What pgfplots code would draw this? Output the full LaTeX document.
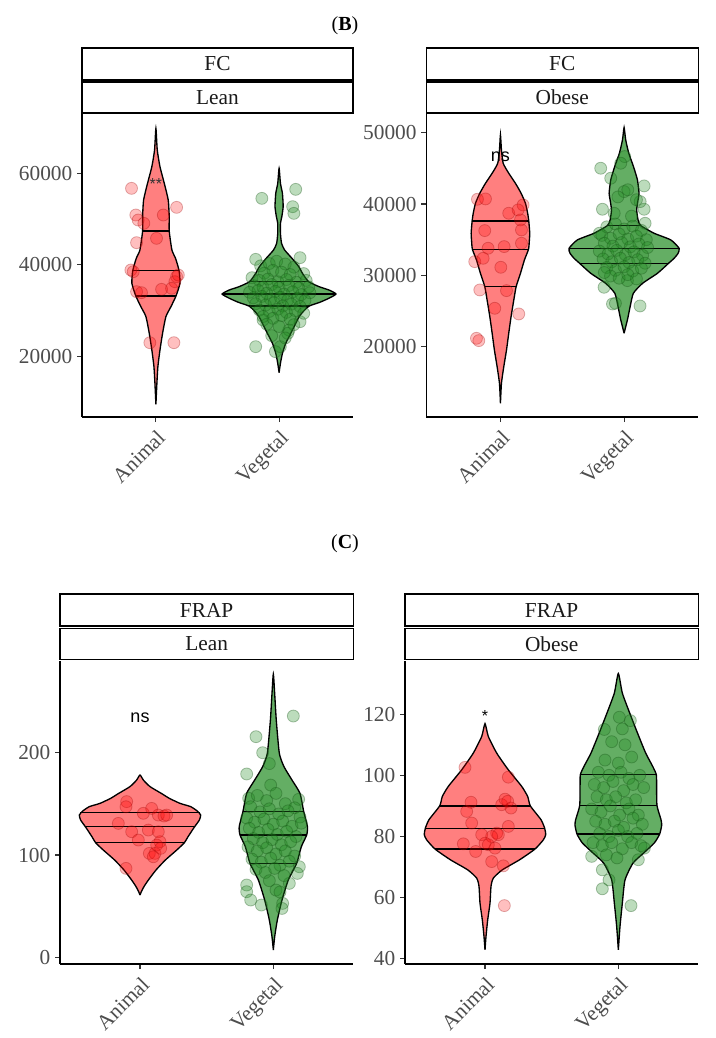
\documentclass[border=0pt]{standalone}
\usepackage{pgfplots}
\usepackage{pgfplotstable}
\pgfplotsset{compat=1.18}
\usepackage{fontspec}
\setmainfont{Liberation Serif}
\newfontfamily\arial{Liberation Sans}
\definecolor{vred}{RGB}{255,0,0}
\definecolor{vgreen}{RGB}{34,139,34}
\definecolor{tickgrey}{RGB}{77,77,77}
\definecolor{stripfg}{RGB}{26,26,26}

% violin outlines: y, signed half-width (x units), right side up then left side down
\pgfplotstableread{
y w
9455 0
14056 0.008
17707 0.016
21358 0.033
25009 0.054
28660 0.081
30851 0.122
33187 0.163
35962 0.195
38737 0.188
41400 0.160
43264 0.130
47425 0.108
50566 0.108
54217 0.100
57868 0.068
61519 0.033
65170 0.011
69916 0
65170 -0.011
61519 -0.033
57868 -0.068
54217 -0.100
50566 -0.108
47425 -0.108
43264 -0.130
41400 -0.160
38737 -0.188
35962 -0.195
33187 -0.163
30851 -0.122
28660 -0.081
25009 -0.054
21358 -0.033
17707 -0.016
14056 -0.008
9455 0
}\vBLA
\pgfplotstableread{
y w
16393 0
18438 0.011
20628 0.027
22819 0.054
25009 0.095
26470 0.122
28660 0.163
29900 0.200
30997 0.245
31800 0.330
32700 0.405
33625 0.462
34500 0.405
35232 0.325
36327 0.240
38152 0.190
39613 0.160
41438 0.105
43264 0.045
44724 0.020
46915 0.011
49105 0.011
50566 0.022
52757 0.033
55677 0.027
57868 0.011
61154 0
57868 -0.011
55677 -0.027
52757 -0.033
50566 -0.022
49105 -0.011
46915 -0.011
44724 -0.020
43264 -0.045
41438 -0.105
39613 -0.160
38152 -0.190
36327 -0.240
35232 -0.325
34500 -0.405
33625 -0.462
32700 -0.405
31800 -0.330
30997 -0.245
29900 -0.200
28660 -0.163
26470 -0.122
25009 -0.095
22819 -0.054
20628 -0.027
18438 -0.011
16393 0
}\vBLV
\pgfplotstableread{
y w
12058 0
14863 0.008
17200 0.027
19538 0.049
21875 0.067
24213 0.086
26550 0.108
28420 0.127
30290 0.162
32160 0.194
33656 0.227
34965 0.234
35900 0.237
37630 0.229
38705 0.220
40108 0.202
41510 0.167
42913 0.121
44315 0.067
45718 0.022
47587 0.008
49691 0
47587 -0.008
45718 -0.022
44315 -0.067
42913 -0.121
41510 -0.167
40108 -0.202
38705 -0.220
37630 -0.229
35900 -0.237
34965 -0.234
33656 -0.227
32160 -0.194
30290 -0.162
28420 -0.127
26550 -0.108
24213 -0.086
21875 -0.067
19538 -0.049
17200 -0.027
14863 -0.008
12058 0
}\vBOA
\pgfplotstableread{
y w
21875 0
23755 0.027
25615 0.049
27485 0.075
28888 0.150
30290 0.270
31693 0.360
32395 0.405
33095 0.437
33796 0.445
34965 0.378
35900 0.243
36975 0.135
37770 0.113
39173 0.102
40575 0.113
41510 0.121
43380 0.108
45250 0.076
47120 0.038
48990 0.013
50720 0
48990 -0.013
47120 -0.038
45250 -0.076
43380 -0.108
41510 -0.121
40575 -0.113
39173 -0.102
37770 -0.113
36975 -0.135
35900 -0.243
34965 -0.378
33796 -0.445
33095 -0.437
32395 -0.405
31693 -0.360
30290 -0.270
28888 -0.150
27485 -0.075
25615 -0.049
23755 -0.027
21875 0
}\vBOV
\pgfplotstableread{
y w
61.0 0
64.3 0.010
69.3 0.030
75.6 0.0625
85.4 0.120
95.1 0.190
104.8 0.275
112.0 0.333
117.8 0.360
127.6 0.410
134.0 0.445
138.9 0.455
142.8 0.430
147.1 0.380
150.3 0.300
155.2 0.220
160.0 0.160
166.6 0.075
173.0 0.025
177.9 0
173.0 -0.025
166.6 -0.075
160.0 -0.160
155.2 -0.220
150.3 -0.300
147.1 -0.380
142.8 -0.430
138.9 -0.455
134.0 -0.445
127.6 -0.410
117.8 -0.360
112.0 -0.333
104.8 -0.275
95.1 -0.190
85.4 -0.120
75.6 -0.0625
69.3 -0.030
64.3 -0.010
61.0 0
}\vCLA
\pgfplotstableread{
y w
7.5 0
20.4 0.010
36.7 0.030
56.2 0.065
75.6 0.112
91.9 0.175
108.1 0.210
119.5 0.250
127.6 0.256
142.2 0.228
160.0 0.200
173.0 0.140
186.0 0.080
199.0 0.045
231.4 0.022
257.4 0.010
276.2 0
257.4 -0.010
231.4 -0.022
199.0 -0.045
186.0 -0.080
173.0 -0.140
160.0 -0.200
142.2 -0.228
127.6 -0.256
119.5 -0.250
108.1 -0.210
91.9 -0.175
75.6 -0.112
56.2 -0.065
36.7 -0.030
20.4 -0.010
7.5 0
}\vCLV
\pgfplotstableread{
y w
42.9 0
47.3 0.0075
52.7 0.020
58.2 0.0375
63.7 0.045
66.4 0.0625
69.1 0.130
72.4 0.260
75.9 0.375
78.9 0.4375
80.6 0.455
82.7 0.4475
85.5 0.420
90.0 0.340
93.1 0.320
96.4 0.275
101.8 0.175
107.3 0.0875
112.7 0.025
116.9 0
112.7 -0.025
107.3 -0.0875
101.8 -0.175
96.4 -0.275
93.1 -0.320
90.0 -0.340
85.5 -0.420
82.7 -0.4475
80.6 -0.455
78.9 -0.4375
75.9 -0.375
72.4 -0.260
69.1 -0.130
66.4 -0.0625
63.7 -0.045
58.2 -0.0375
52.7 -0.020
47.3 -0.0075
42.9 0
}\vCOA
\pgfplotstableread{
y w
42.9 0
50.6 0.0125
58.2 0.030
65.8 0.050
71.3 0.110
74.6 0.190
77.9 0.270
80.8 0.310
83.7 0.325
85.5 0.320
90.1 0.290
96.4 0.287
100.2 0.285
102.9 0.258
107.3 0.205
113.8 0.144
120.4 0.085
126.9 0.030
133.3 0
126.9 -0.030
120.4 -0.085
113.8 -0.144
107.3 -0.205
102.9 -0.258
100.2 -0.285
96.4 -0.287
90.1 -0.290
85.5 -0.320
83.7 -0.325
80.8 -0.310
77.9 -0.270
74.6 -0.190
71.3 -0.110
65.8 -0.050
58.2 -0.030
50.6 -0.0125
42.9 0
}\vCOV

\newcommand\violin[4]{% center, table, colour, opacity
  \addplot[fill=#3, fill opacity=#4, draw=black, line width=1pt, smooth, tension=0.35] table[x expr=#1+\thisrow{w}, y=y]{#2};
}

\pgfplotsset{
  vbase/.style={scale only axis, anchor=south west, xmin=0.4, xmax=2.6,
    axis x line*=bottom, axis y line*=left,
    xtick={1,2}, xticklabels={Animal,Vegetal},
    tick align=outside, major tick length=3.75pt,
    tick style={line width=0.8pt, color=black!80},
    axis line style={line width=1pt, -},
    tick label style={font=\fontsize{16}{19}\selectfont, text=tickgrey},
    xticklabel style={rotate=45, anchor=north east},
    /pgf/number format/1000 sep={},
    /pgf/number format/assume math mode=true,
    scaled y ticks=false},
  pts/.style={only marks, mark=*, mark size=4.5pt},
  rpts/.style={pts, mark options={fill=vred, fill opacity=0.25, draw=vred!60!black, draw opacity=0.3, line width=0.6pt}},
  gpts/.style={pts, mark options={fill=vgreen, fill opacity=0.3, draw=vgreen!60!black, draw opacity=0.35, line width=0.6pt}},
  qline/.style={black, line width=1pt},
}

\begin{document}
\begin{tikzpicture}
\useasboundingbox (0,0) rectangle (536.25pt,-778.5pt);

% ---------------- B / Lean
\begin{axis}[vbase, at={(61.5pt,-312.75pt)}, width=203.25pt, height=227.25pt,
  ymin=6680, ymax=73060, ytick={20000,40000,60000}]
\addplot[rpts] coordinates {(0.802,56773) (1.168,52612) (0.837,50930) (1.060,50930) (0.856,49836) (0.902,49106) (0.843,44870) (1.005,45820) (0.797,38883) (0.816,38518) (1.168,37422) (1.154,36327) (1.182,37787) (0.843,34137) (0.883,33918) (1.046,34648) (1.127,34867) (0.951,22962) (1.146,22962)};
\addplot[gpts] coordinates {(1.86,54580) (2.135,56552) (2.11,52757) (2.12,51296) (1.81,41219) (2.17,41584) (1.81,22088) (1.97,21000) (2.08,25740) (2.17,27564) (1.87,27929) (2.07,25009) (2.01,22088)
(1.85,39800) (1.92,40300) (1.98,40800) (2.05,40200) (2.12,39500) (1.88,38200) (1.95,38800) (2.02,38400) (2.09,37900) (2.20,38100) (1.78,37200) (1.84,36600) (1.91,36900) (1.99,36300) (2.06,36800) (2.14,36200) (2.22,36600) (1.80,35400) (1.87,35100) (1.94,35700) (2.00,35000) (2.08,35500) (2.16,34900) (2.24,35200) (1.76,34000) (1.83,34400) (1.90,33800) (1.97,34200) (2.04,33600) (2.11,34100) (2.18,33500) (2.25,33900) (1.79,32800) (1.86,33100) (1.93,32500) (2.01,32900) (2.07,32300) (2.15,32700) (2.21,32200) (1.81,31500) (1.89,31200) (1.96,31700) (2.03,31000) (2.10,31400) (2.17,30900) (1.84,30100) (1.92,29800) (1.99,30300) (2.06,29600) (2.13,30000) (2.20,29400) (1.87,28700) (1.95,28300) (2.02,28900) (2.09,28100) (1.90,27000) (2.00,26500) (2.12,26900) (1.94,24500) (2.05,24000)};
\violin{1}{\vBLA}{vred}{0.5}
\violin{2}{\vBLV}{vgreen}{0.7}
\addplot[qline] coordinates {(0.892,47425) (1.108,47425)};
\addplot[qline] coordinates {(0.812,38737) (1.188,38737)};
\addplot[qline] coordinates {(0.838,33187) (1.162,33187)};
\addplot[qline] coordinates {(1.758,36400) (2.242,36400)};
\addplot[qline] coordinates {(1.538,33625) (2.462,33625)};
\addplot[qline] coordinates {(1.755,30997) (2.245,30997)};
\node[font=\arial\fontsize{12}{14}\selectfont, inner sep=0, text=black!80] at (axis cs:1,57650) {**};
\end{axis}

% ---------------- B / Obese
\begin{axis}[vbase, at={(319.7pt,-312.75pt)}, width=204pt, height=227.25pt,
  ymin=10140, ymax=52620, ytick={20000,30000,40000,50000}]
\addplot[rpts] coordinates {(0.814,40668) (0.879,40715) (1.183,39874) (1.067,38705) (1.143,39173) (1.162,37770) (1.170,36368) (0.873,36274) (0.900,33797) (1.030,34030) (1.170,34498) (0.792,31926) (0.860,32393) (1.003,31131) (0.833,27953) (1.049,27859) (0.954,25381) (1.148,24587) (0.806,21174) (0.825,20848)};
\addplot[gpts] coordinates {(1.811,45016) (1.892,43614) (2.162,42539) (2.0,41744) (1.825,39266) (2.162,39266) (2.13,40341) (2.005,46653) (1.973,45718) (1.906,25989) (2.129,25709) (1.838,28327) (1.93,26082) (2.027,29262) (2.03,42000) (1.95,41000) (2.10,40600) (2.17,37300) (1.80,35900)
(1.86,36800) (1.93,37200) (2.00,36500) (2.07,36900) (2.14,36300) (1.82,35600) (1.89,35200) (1.96,35800) (2.03,35100) (2.10,35500) (2.18,35000) (1.84,34500) (1.91,34100) (1.98,34600) (2.05,34000) (2.12,34400) (2.19,33900) (1.80,33400) (1.87,33000) (1.94,33500) (2.01,32900) (2.08,33300) (2.15,32800) (1.83,32300) (1.90,31900) (1.97,32400) (2.04,31800) (2.11,32200) (2.17,31700) (1.86,31100) (1.93,30700) (2.00,31200) (2.07,30600) (2.14,31000) (1.89,29900) (1.96,29600) (2.03,30100) (2.10,29500) (1.84,30400) (2.06,38300) (1.92,38700)};
\violin{1}{\vBOA}{vred}{0.5}
\violin{2}{\vBOV}{vgreen}{0.7}
\addplot[qline] coordinates {(0.773,37630) (1.227,37630)};
\addplot[qline] coordinates {(0.773,33656) (1.227,33656)};
\addplot[qline] coordinates {(0.876,28420) (1.124,28420)};
\addplot[qline] coordinates {(1.868,36975) (2.132,36975)};
\addplot[qline] coordinates {(1.555,33796) (2.445,33796)};
\addplot[qline] coordinates {(1.640,31693) (2.360,31693)};
\node[font=\arial\fontsize{13.5}{16}\selectfont, inner sep=0] at (axis cs:1,46653) {ns};
\end{axis}

% ---------------- C / Lean
\begin{axis}[vbase, at={(45pt,-723pt)}, width=220pt, height=227.5pt,
  ymin=-6.1, ymax=289.2, ytick={0,100,200}]
\addplot[rpts] coordinates {(0.90,152.0) (0.8375,130.8) (0.895,147.0) (0.9375,122.7) (1.025,140.6) (1.0875,145.4) (1.1375,138.9) (1.18,138.0) (1.20,138.9) (1.0625,124.3) (0.9875,114.6) (1.1375,122.7) (1.15,113.0) (1.125,109.7) (1.07,101.6) (1.1125,101.6) (1.155,106.5) (0.895,87.0) (1.10,98.3)};
\addplot[gpts] coordinates {(2.15,235.3) (1.87,215.2) (1.92,199.6) (1.80,178.9) (1.97,189) (2.19,154.2) (2.195,88.6) (2.18,82.1) (1.80,70.8) (1.80,64.3) (1.83,56.2) (1.91,51.3) (2.07,52.9) (2.065,48.0) (2.02,65.9) (2.12,72.4) (1.815,155.2) (1.98,168.1)
(1.88,158) (1.95,153) (2.02,160) (2.09,150) (2.16,146) (1.83,147) (1.90,142) (1.97,145) (2.04,140) (2.11,143) (2.20,137) (1.80,136) (1.86,132) (1.93,135) (2.00,130) (2.07,133) (2.14,128) (2.21,131) (1.82,126) (1.89,122) (1.96,125) (2.03,120) (2.10,123) (2.17,118) (1.85,116) (1.92,112) (1.99,115) (2.06,110) (2.13,113) (1.81,108) (1.88,104) (1.95,107) (2.02,101) (2.09,104) (2.16,99) (1.84,96) (1.91,93) (1.98,97) (2.05,90) (2.12,94) (1.87,86) (1.94,83) (2.01,87) (2.08,80) (1.97,75) (2.05,64)};
\violin{1}{\vCLA}{vred}{0.5}
\violin{2}{\vCLV}{vgreen}{0.7}
\addplot[qline] coordinates {(0.55,141.2) (1.45,141.2)};
\addplot[qline] coordinates {(0.59,127.6) (1.41,127.6)};
\addplot[qline] coordinates {(0.667,112.0) (1.333,112.0)};
\addplot[qline] coordinates {(1.772,142.2) (2.228,142.2)};
\addplot[qline] coordinates {(1.75,119.5) (2.25,119.5)};
\addplot[qline] coordinates {(1.825,91.9) (2.175,91.9)};
\node[font=\arial\fontsize{13.5}{16}\selectfont, inner sep=0] at (axis cs:1,234) {ns};
\end{axis}

% ---------------- C / Obese
\begin{axis}[vbase, at={(303.75pt,-723pt)}, width=220pt, height=227.5pt,
  ymin=38.3, ymax=137.5, ytick={40,60,80,100,120}]
\addplot[rpts] coordinates {(0.85,102.6) (1.175,99.4) (0.895,91.2) (0.8625,88.2) (0.90,84.4) (1.125,90.4) (1.15,92.2) (1.17,91.5) (1.195,89.3) (1.175,83.3) (0.975,80.6) (1.0,77.8) (1.0875,81.1) (1.10,80.6) (1.05,80.0) (1.025,77.3) (0.8375,77.6) (0.93,75.1) (1.075,76.2) (1.05,71.8) (1.1375,70.4) (1.145,57.4)};
\addplot[gpts] coordinates {(2.09,117.9) (2.0075,119) (1.895,115) (2.03,115.2) (1.88,69.1) (1.88,62.9) (1.80,73.5) (2.15,72.4) (2.095,57.4) (1.93,65.8) (2.195,76.2)
(1.95,111) (2.05,110) (2.10,106) (1.90,105) (2.00,104) (1.85,101) (1.93,100) (2.02,101) (2.08,99) (2.16,100) (1.82,97) (1.89,96) (1.96,98) (2.04,95) (2.11,97) (2.19,96) (1.84,93) (1.91,92) (1.98,93) (2.06,91) (2.13,92) (1.80,89) (1.87,88) (1.94,90) (2.01,87) (2.08,89) (2.15,87) (1.83,85) (1.90,84) (1.97,85) (2.04,83) (2.11,86) (2.18,84) (1.86,81) (1.93,80) (2.00,82) (2.07,80) (2.14,81) (1.81,78) (1.88,77) (1.95,78) (2.03,76) (2.10,78) (2.17,77) (1.91,74) (1.99,73)};
\violin{1}{\vCOA}{vred}{0.5}
\violin{2}{\vCOV}{vgreen}{0.7}
\addplot[qline] coordinates {(0.66,90.0) (1.34,90.0)};
\addplot[qline] coordinates {(0.5525,82.7) (1.4475,82.7)};
\addplot[qline] coordinates {(0.625,75.9) (1.375,75.9)};
\addplot[qline] coordinates {(1.72,100.2) (2.28,100.2)};
\addplot[qline] coordinates {(1.71,90.1) (2.29,90.1)};
\addplot[qline] coordinates {(1.69,80.8) (2.31,80.8)};
\node[font=\arial\fontsize{12}{14}\selectfont, inner sep=0, anchor=north] at (axis cs:1,121.2) {*};
\end{axis}

% ---------------- strips and titles
\tikzset{strip/.style={draw=black, line width=0.9pt}, striptext/.style={font=\fontsize{16}{19}\selectfont, text=stripfg}}
\draw[strip] (61.5pt,-36pt) rectangle (264.75pt,-60pt);
\draw[strip] (61.5pt,-61.5pt) rectangle (264.75pt,-84.75pt);
\node[striptext] at (163.1pt,-48pt) {FC};
\node[striptext] at (163.1pt,-73.1pt) {Lean};
\draw[strip] (319.7pt,-36pt) rectangle (523.7pt,-60pt);
\draw[strip] (319.7pt,-61.5pt) rectangle (523.7pt,-84.75pt);
\node[striptext] at (421.7pt,-48pt) {FC};
\node[striptext] at (421.7pt,-73.1pt) {Obese};
\draw[strip] (45pt,-445.5pt) rectangle (265pt,-469.5pt);
\draw[strip] (45pt,-471.5pt) rectangle (265pt,-494.5pt);
\node[striptext] at (155pt,-457.5pt) {FRAP};
\node[striptext] at (155pt,-483pt) {Lean};
\draw[strip] (303.75pt,-445.5pt) rectangle (523.75pt,-469.5pt);
\draw[strip] (303.75pt,-471.5pt) rectangle (523.75pt,-494.5pt);
\node[striptext] at (413.75pt,-457.5pt) {FRAP};
\node[striptext] at (413.75pt,-483pt) {Obese};
\node[font=\fontsize{15}{18}\selectfont] at (258.75pt,-19.5pt) {(\textbf{B})};
\node[font=\fontsize{15}{18}\selectfont] at (258.75pt,-408pt) {(\textbf{C})};
\end{tikzpicture}
\end{document}
